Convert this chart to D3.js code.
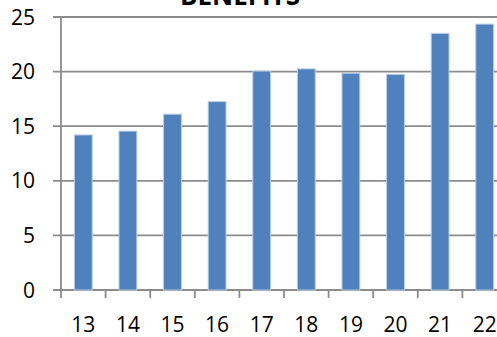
<!DOCTYPE html>
<html><head><meta charset="utf-8">
<script src="https://cdn.jsdelivr.net/npm/d3@7"></script>
<style>body{margin:0;background:#fff;overflow:hidden}svg{display:block}</style>
</head><body>
<svg id="c" width="497" height="337"></svg>
<script>
const categories = ["13","14","15","16","17","18","19","20","21","22"];
const values = [14.2, 14.55, 16.1, 17.25, 20.05, 20.25, 19.85, 19.75, 23.5, 24.35];
const yTicks = [0, 5, 10, 15, 20, 25];
const title = "BENEFITS";

(function () {
const svg = d3.select("#c");
const pLeft = 61, pRight = 507, pTop = 17, pBottom = 290;
const font = "'Open Sans', sans-serif";

const x = d3.scaleBand().domain(categories).range([pLeft, pRight]).paddingInner(0.6).paddingOuter(0.3);
const y = d3.scaleLinear().domain([0, 25]).range([pBottom, pTop]);
const step = x.step();

// gridlines (include y tick marks to the left)
svg.append("g").selectAll("line").data(yTicks).join("line")
  .attr("x1", pLeft - 8).attr("x2", pRight)
  .attr("y1", d => y(d)).attr("y2", d => y(d))
  .attr("stroke", "#8c8c8c").attr("stroke-width", 1.8);

// y axis line
svg.append("line").attr("x1", pLeft).attr("x2", pLeft).attr("y1", pTop).attr("y2", pBottom + 8)
  .attr("stroke", "#8c8c8c").attr("stroke-width", 1.8);

// x tick marks at category boundaries
const bounds = d3.range(categories.length + 1).map(i => pLeft + i * step);
svg.append("g").selectAll("line").data(bounds.slice(1)).join("line")
  .attr("x1", d => d).attr("x2", d => d).attr("y1", pBottom).attr("y2", pBottom + 8)
  .attr("stroke", "#8c8c8c").attr("stroke-width", 1.8);

// bars
svg.append("g").selectAll("rect").data(values).join("rect")
  .attr("x", (d, i) => x(categories[i]))
  .attr("y", d => y(d))
  .attr("width", x.bandwidth())
  .attr("height", d => y(0) - y(d))
  .attr("fill", "#4f81bd")
  .attr("stroke", "#b9cde5").attr("stroke-width", 1);

// y labels
svg.append("g").selectAll("text").data(yTicks).join("text")
  .attr("x", 35).attr("y", d => y(d)).attr("dy", "0.36em")
  .attr("text-anchor", "end").attr("font-family", font).attr("font-size", 21)
  .attr("fill", "#000").text(d => d);

// x labels
svg.append("g").selectAll("text").data(categories).join("text")
  .attr("x", d => x(d) + x.bandwidth() / 2).attr("y", 332)
  .attr("text-anchor", "middle").attr("font-family", font).attr("font-size", 21)
  .attr("fill", "#000").text(d => d);

// title
svg.append("text").attr("x", 240).attr("y", 5).attr("text-anchor", "middle")
  .attr("font-family", font).attr("font-size", 26).attr("font-weight", "bold")
  .attr("fill", "#000").text(title);
})();
</script>
</body></html>
